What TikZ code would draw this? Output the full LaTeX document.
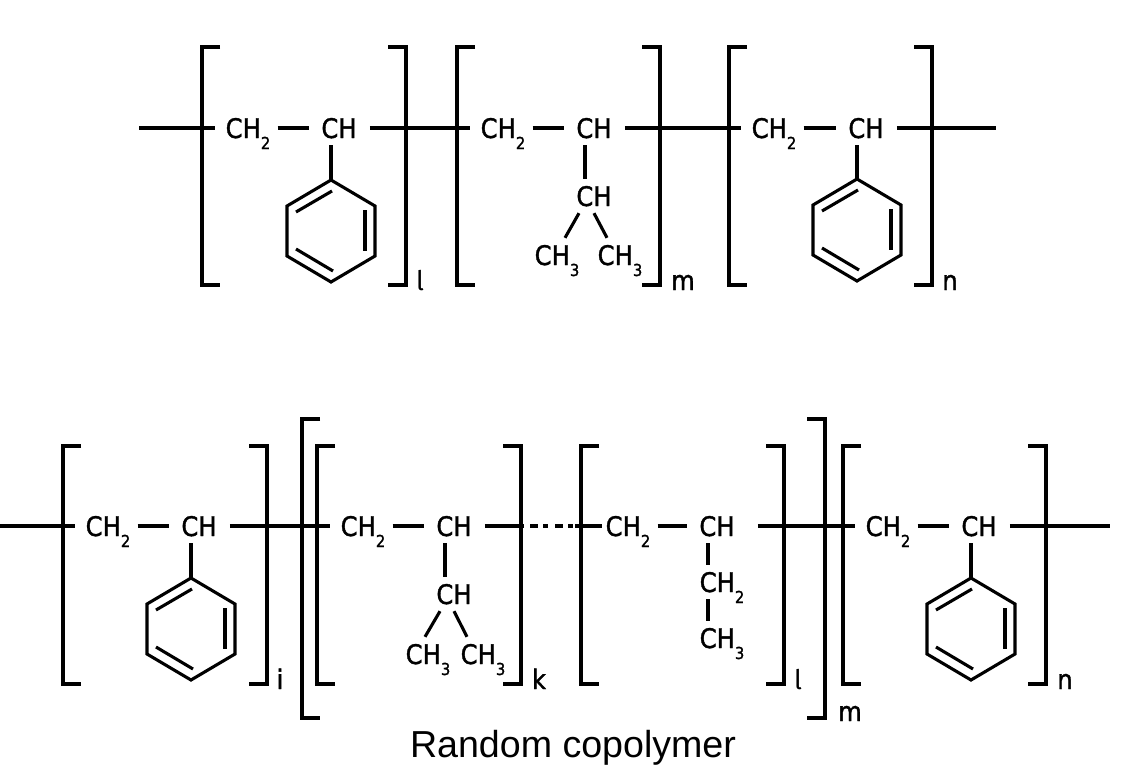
\documentclass[tikz,border=0pt]{standalone}
\usepackage{fontspec}
\setmainfont[FakeBold=1.3]{DejaVu Sans Condensed}
\newfontfamily\captionfont{Liberation Sans}
\newfontfamily\tailfont{Fira Sans}
\newcommand{\chsub}[1]{\raisebox{-11pt}{\fontsize{16.5}{16.5}\selectfont #1}}

\begin{document}
\begin{tikzpicture}[x=1pt, y=-1pt]
    \tikzstyle{bond} = [line width=3.1pt]
    \tikzstyle{bondout} = [bond, shorten <=3pt]
    \tikzstyle{bondin} = [bond, shorten <=-3pt, shorten >=2pt]
    \tikzstyle{bracket} = [line width=3.1pt, miter limit=10]
    \tikzstyle{chem} = [font=\fontsize{27}{27}\selectfont, text height=20pt, text depth=0pt, inner xsep=10pt, inner ysep=7pt]
    \tikzstyle{index} = [font=\fontsize{27}{27}\selectfont, inner sep=0pt, anchor=base]
    \useasboundingbox (0, 0) rectangle (1148, 774);

    % brackets: left, right, top, bottom
    \foreach \bl/\br/\bt/\bb in {202/406/47/285, 457/660/47/285, 729/932/47/285, 63/267/446/684, 317/521/446/684, 581/784/446/684, 843/1046/446/684, 302/825/419/718} {
        \draw[bracket] (\bl+18, \bt) -- (\bl, \bt) -- (\bl, \bb) -- (\bl+18, \bb);
        \draw[bracket] (\br-18, \bt) -- (\br, \bt) -- (\br, \bb) -- (\br-18, \bb);
    }

    % benzene rings
    \foreach \rname/\rx/\ry in {ringa/331/231, ringb/857/230, ringc/191/629, ringd/971/629} {
        \begin{scope}[shift={(\rx, \ry)}]
            \coordinate (\rname) at (0, -51);
            \draw[bond, line join=miter] (0, -51) -- (44, -25) -- (44, 25) -- (0, 51) -- (-44, 25) -- (-44, -25) -- cycle;
            \draw[bond] (-35, -19) -- (1, -40);
            \draw[bond] (34, -21) -- (34, 20);
            \draw[bond] (-35, 18) -- (2, 40);
        \end{scope}
    }

    % top chain
    \coordinate (starta) at (139, 128);
    \coordinate (enda) at (996, 128);
    \node[chem] (ch2a) at (248, 128) {CH\chsub{2}};
    \node[chem] (cha) at (339, 128) {CH};
    \node[chem] (ch2b) at (503, 128) {CH\chsub{2}};
    \node[chem] (chb) at (594, 128) {CH};
    \node[chem] (chc) at (594, 196) {CH};
    \node[chem] (ch3a) at (557, 255) {CH\chsub{3}};
    \node[chem] (ch3b) at (620, 255) {CH\chsub{3}};
    \node[chem] (ch2c) at (774, 128) {CH\chsub{2}};
    \node[chem] (chd) at (866, 128) {CH};
    \draw[bond] (starta) -- (ch2a);
    \draw[bondin] (ch2a) -- (cha);
    \draw[bondout] (cha) -- (ch2b);
    \draw[bondin] (ch2b) -- (chb);
    \draw[bondout] (chb) -- (ch2c);
    \draw[bondin] (ch2c) -- (chd);
    \draw[bondout] (chd) -- (enda);
    \draw[bond] (cha.south -| ringa) -- (ringa);
    \draw[bond] (chd.south -| ringb) -- (ringb);
    \draw[bond] ([xshift=-9pt]chb.south) -- ([xshift=-9pt]chc.north);
    \draw[bond] ([xshift=-15pt]chc.south) -- ([xshift=8pt]ch3a.north);
    \draw[bond] (chc.south) -- ([xshift=-13pt]ch3b.north);

    % bottom chain
    \coordinate (startb) at (0, 526);
    \coordinate (endb) at (1110, 526);
    \coordinate (solid) at (524, 526);
    \coordinate (dota) at (530, 526);
    \coordinate (dotb) at (573, 526);
    \coordinate (dotc) at (575, 526);
    \node[chem] (ch2d) at (108, 526) {CH\chsub{2}};
    \node[chem] (che) at (199, 526) {CH};
    \node[chem] (ch2e) at (363, 526) {CH\chsub{2}};
    \node[chem] (chf) at (454, 526) {CH};
    \node[chem] (chg) at (454, 594) {CH};
    \node[chem] (ch3c) at (428, 654) {CH\chsub{3}};
    \node[chem] (ch3d) at (483, 654) {CH\chsub{3}};
    \node[chem] (ch2f) at (628, 526) {CH\chsub{2}};
    \node[chem] (chh) at (717, 526) {CH};
    \node[chem] (ch2g) at (722, 582) {CH\chsub{2}};
    \node[chem] (ch3e) at (722, 638) {CH\chsub{3}};
    \node[chem] (ch2h) at (888, 526) {CH\chsub{2}};
    \node[chem] (chi) at (979, 526) {CH};
    \draw[bond] (startb) -- (ch2d);
    \draw[bondin] (ch2d) -- (che);
    \draw[bondout] (che) -- (ch2e);
    \draw[bondin] (ch2e) -- (chf);
    \draw[bondout] (chf) -- (solid);
    \draw[bond, dash pattern=on 8pt off 5pt on 5pt off 7pt] (dota) -- (dotb);
    \draw[bond] (dotc) -- ([xshift=7pt]ch2f.west);
    \draw[bondin] (ch2f) -- (chh);
    \draw[bond] ([xshift=13pt]chh.east) -- (ch2h);
    \draw[bondin] (ch2h) -- (chi);
    \draw[bondout] (chi) -- (endb);
    \draw[bond] (che.south -| ringc) -- (ringc);
    \draw[bond] (chi.south -| ringd) -- (ringd);
    \draw[bond] ([xshift=-9pt]chf.south) -- ([xshift=-9pt]chg.north);
    \draw[bond] ([xshift=-14pt]chg.south) -- ([xshift=-3pt]ch3c.north);
    \draw[bond] (chg.south) -- ([xshift=-16pt]ch3d.north);
    \draw[bond] ([xshift=-9pt]chh.south) -- (ch2g.north -| {708, 0});
    \draw[bond] (ch2g.south -| {708, 0}) -- (ch3e.north -| {708, 0});

    % repeat counts
    \node[index] (cntl) at (420, 290) {\tailfont l};
    \node[index] (cntm) at (683, 290) {m};
    \node[index] (cntn) at (950, 290) {n};
    \node[index] (cnti) at (280, 689) {i};
    \node[index] (cntk) at (539, 689) {k};
    \node[index] (cntlb) at (798, 689) {\tailfont l};
    \node[index] (cntnb) at (1065, 689) {n};
    \node[index] (cntmb) at (850, 721) {m};

    \node[font=\captionfont\fontsize{37.6}{37.6}\selectfont, inner sep=0pt, anchor=base] (title) at (573, 757) {Random copolymer};
\end{tikzpicture}
\end{document}
